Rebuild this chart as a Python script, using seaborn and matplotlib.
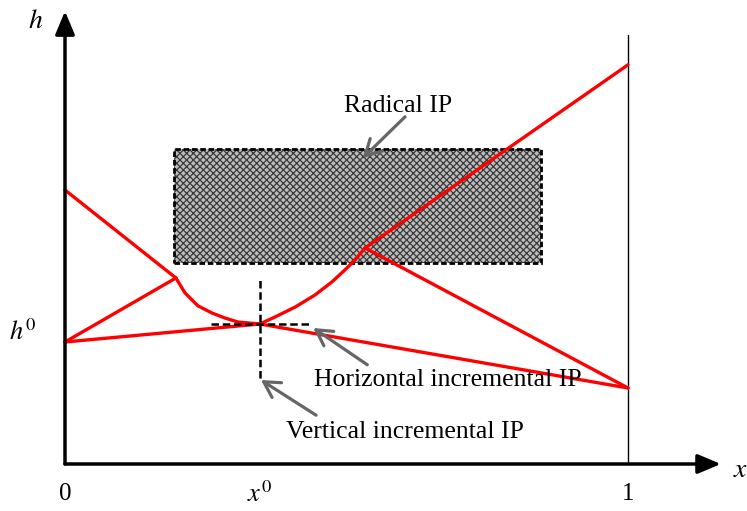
import seaborn as sns
import pandas as pd
import matplotlib.pyplot as plt
from matplotlib.patches import Rectangle

# Red path segments (x in [0, 1], h scaled 0..1)
left_x = [0, 0.197]
left_h = [0.685, 0.465]
rise_x = [0, 0.197]
rise_h = [0.305, 0.465]
dip_x = [0.197, 0.213, 0.236, 0.261, 0.284, 0.307, 0.346]
dip_h = [0.465, 0.428, 0.3955, 0.3775, 0.365, 0.355, 0.350]
climb_x = [0.346, 0.373, 0.409, 0.444, 0.474, 0.497, 0.515, 0.533]
climb_h = [0.350, 0.3675, 0.3925, 0.4225, 0.455, 0.485, 0.510, 0.540]
top_x = [0.533, 1.0]
top_h = [0.540, 0.998]
fall_x = [0.533, 1.0]
fall_h = [0.540, 0.190]
base_x = [0, 0.346, 1.0]
base_h = [0.305, 0.350, 0.190]

# Radical IP region and incremental cross
box_x = [0.194, 0.846]
box_h = [0.502, 0.788]
x0, h0 = 0.346, 0.350
cross_x = [0.259, 0.439]
cross_h = [0.215, 0.465]

sns.set_theme(style="white")
plt.rcParams['font.family'] = ['Liberation Serif', 'DejaVu Serif']
plt.rcParams['mathtext.fontset'] = 'stix'
plt.rcParams['text.color'] = 'black'
plt.rcParams['hatch.linewidth'] = 0.9

fig = plt.figure(figsize=(7.47, 5.11), dpi=100)
ax = fig.add_axes([0, 0, 1, 1])
ax.set_xlim(-65 / 563, 682 / 563)
ax.set_ylim(-47 / 400, 464 / 400)
ax.axis('off')

# hatched rectangle
w = box_x[1] - box_x[0]
hgt = box_h[1] - box_h[0]
ax.add_patch(Rectangle((box_x[0], box_h[0]), w, hgt, facecolor='#bdbdbd',
                       edgecolor='#3a3a3a', hatch='xxxxx', linewidth=0))
ax.add_patch(Rectangle((box_x[0], box_h[0]), w, hgt, facecolor='none',
                       edgecolor='black', linestyle=(0, (2, 1)), linewidth=2))

# vertical line at x = 1
ax.plot([1, 1], [0, 1.0725], color='black', linewidth=1)

# red lines
segments = [(left_x, left_h), (rise_x, rise_h), (dip_x, dip_h),
            (climb_x, climb_h), (top_x, top_h), (fall_x, fall_h),
            (base_x, base_h)]
for sx, sh in segments:
    df = pd.DataFrame({'x': sx, 'h': sh})
    sns.lineplot(data=df, x='x', y='h', sort=False, color='#ff0000',
                 linewidth=2.4, ax=ax)

# dashed cross at (x0, h0)
ax.plot(cross_x, [h0, h0], color='black', linestyle=(0, (3, 1.5)),
        linewidth=1.8)
ax.plot([x0, x0], cross_h, color='black', linestyle=(0, (3, 1.5)),
        linewidth=1.8)

# axes arrows
axis_arrow = dict(arrowstyle='-|>,head_length=1.0,head_width=0.42',
                  color='black', lw=2.5, mutation_scale=14,
                  shrinkA=0, shrinkB=0)
ax.annotate('', xy=(1.165, 0), xytext=(0, 0), arrowprops=axis_arrow)
ax.annotate('', xy=(0, 1.132), xytext=(0, 0), arrowprops=axis_arrow)

# axis labels
ax.text(-0.053, 1.105, '$h$', fontsize=20, ha='center', va='center')
ax.text(1.2, -0.015, '$x$', fontsize=20, ha='center', va='center')
ax.text(0, -0.075, '0', fontsize=18, ha='center', va='center')
ax.text(1, -0.075, '1', fontsize=18, ha='center', va='center')
ax.text(x0, -0.075, '$x^0$', fontsize=19, ha='center', va='center')
ax.text(-0.075, 0.33, '$h^0$', fontsize=19, ha='center', va='center')

# annotations
gray_arrow = dict(arrowstyle='->,head_length=0.8,head_width=0.45',
                  color='#666666', lw=2.3, mutation_scale=14,
                  shrinkA=0, shrinkB=0)
ax.text(0.592, 0.895, 'Radical IP', fontsize=18.5, ha='center', va='center')
ax.annotate('', xy=(0.529, 0.765), xytext=(0.604, 0.868),
            arrowprops=gray_arrow)
ax.text(0.68, 0.21, 'Horizontal incremental IP', fontsize=18.5,
        ha='center', va='center')
ax.annotate('', xy=(0.441, 0.34), xytext=(0.537, 0.248),
            arrowprops=gray_arrow)
ax.text(0.604, 0.08, 'Vertical incremental IP', fontsize=18.5,
        ha='center', va='center')
ax.annotate('', xy=(0.348, 0.21), xytext=(0.446, 0.122),
            arrowprops=gray_arrow)

fig.savefig('out.png', dpi=100)
